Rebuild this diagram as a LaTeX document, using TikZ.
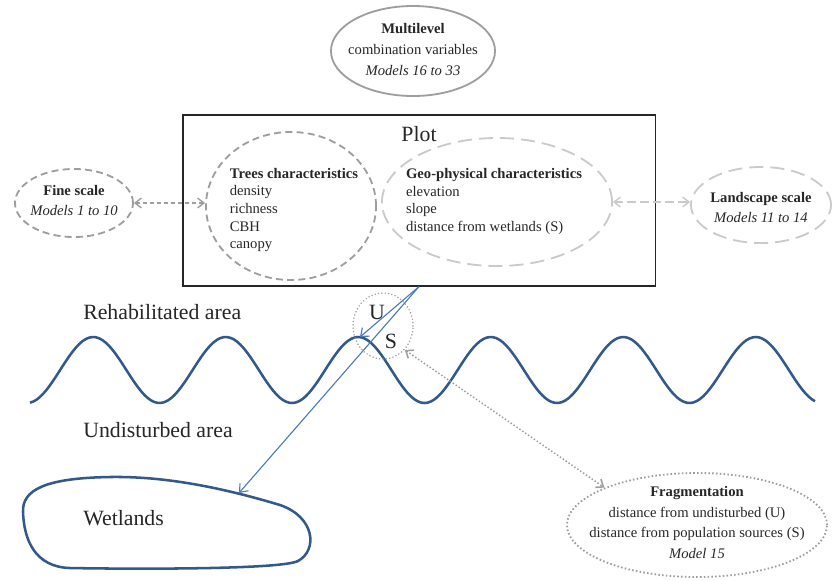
\documentclass[tikz,border=0pt]{standalone}
\usepackage{fontspec}
\setmainfont{Liberation Serif}
\usetikzlibrary{arrows.meta, shapes.geometric, positioning}
\definecolor{WaveBlue}{RGB}{50,88,140}
\definecolor{LinkBlue}{RGB}{72,124,186}
\definecolor{RingGray}{RGB}{158,158,158}
\definecolor{PaleGray}{RGB}{202,202,202}
\begin{document}
\begin{tikzpicture}[x=0.025cm, y=-0.025cm,
    every node/.style={text=black!85, font=\fontsize{10.4}{12.6}\selectfont},
    txt/.style={inner sep=0pt, align=left},
    ctxt/.style={inner sep=0pt, align=center, font=\fontsize{10.4}{14.9}\selectfont},
    big/.style={inner sep=0pt, font=\fontsize{15.5}{18}\selectfont},
    ring/.style={ellipse, draw=RingGray, line width=1.3pt, inner sep=0pt},
    dsh/.style={ellipse, draw=RingGray, line width=1.3pt,
                dash pattern=on 5pt off 3pt, inner sep=0pt},
    ldsh/.style={ellipse, draw=PaleGray, line width=1.3pt,
                 dash pattern=on 10pt off 5pt, inner sep=0pt},
    dot/.style={ellipse, draw=RingGray, line width=1.2pt, line cap=round,
                dash pattern=on 0pt off 2.4pt, inner sep=0pt},
    arrb/.style={-{Straight Barb[length=5pt,width=8pt]}, LinkBlue, line width=0.8pt},
    arrd/.style={{Straight Barb[length=4.5pt,width=7pt]}-{Straight Barb[length=4.5pt,width=7pt]},
                 RingGray, line width=1pt, dash pattern=on 3pt off 2pt},
    arrl/.style={{Straight Barb[length=4.5pt,width=7pt]}-{Straight Barb[length=4.5pt,width=7pt]},
                 PaleGray, line width=1pt, dash pattern=on 6pt off 3pt},
    arrp/.style={{Straight Barb[length=4.5pt,width=7pt]}-{Straight Barb[length=4.5pt,width=7pt]},
                 RingGray, line width=1.1pt, dash pattern=on 1pt off 1.5pt},
    wave/.style={WaveBlue, line width=1.8pt}
  ]
  \useasboundingbox (0,0) rectangle (832,580);

  % plot box and its two groups of variables
  \node[draw=black!85, line width=0.8pt, inner sep=0pt,
        minimum width=11.8cm, minimum height=4.275cm] (plot) at (419,200.5) {};
  \node[big, below=0.3cm of plot.north] (plotLbl) {Plot};
  \node[dsh, minimum width=4.25cm, minimum height=3.7cm] (trees) at (291,206) {};
  \node[txt] (treesTxt) at (294,210)
    {\textbf{Trees characteristics}\\density\\richness\\CBH\\canopy};
  \node[ldsh, minimum width=5.75cm, minimum height=3.2cm] (geo) at (497,202) {};
  \node[txt] (geoTxt) at (494,201.5)
    {\textbf{Geo-physical characteristics}\\elevation\\slope\\distance from wetlands (S)};

  % scales
  \node[ring, minimum width=4.1cm, minimum height=2.25cm] (multi) at (413,51) {};
  \node[ctxt, font=\fontsize{10.4}{15.2}\selectfont] (multiTxt) at (413,49.5)
    {\textbf{Multilevel}\\combination variables\\\textit{Models 16 to 33}};
  \node[dsh, minimum width=2.95cm, minimum height=1.7cm] (fine) at (74,203) {};
  \node[ctxt] (fineTxt) at (74,200.5) {\textbf{Fine scale}\\\textit{Models 1 to 10}};
  \node[ldsh, minimum width=3.5cm, minimum height=1.9cm] (land) at (761,205) {};
  \node[ctxt] (landTxt) at (761,207.5) {\textbf{Landscape scale}\\\textit{Models 11 to 14}};
  \node[ellipse, draw=RingGray, line width=1.3pt, dash pattern=on 1.1pt off 1.6pt,
        inner sep=0pt, minimum width=6.5cm, minimum height=2.6cm] (frag) at (697,525) {};
  \node[ctxt] (fragTxt) at (697,522.5)
    {\textbf{Fragmentation}\\distance from undisturbed (U)\\distance from population sources (S)\\\textit{Model 15}};

  \draw[arrd] (fine.east) -- (trees.west |- fine.east);
  \draw[arrl] (geo.east) -- (land.west |- geo.east);

  % landscape
  \node[big, anchor=west] (rehab) at (83,312) {Rehabilitated area};
  \node[big, anchor=west] (undist) at (83,430) {Undisturbed area};
  \node[big, anchor=west] (wetLbl) at (83,518) {Wetlands};
  \draw[wave] plot[domain=30:815, samples=240]
    (\x, {370+33*cos(2.717*(\x-27))});
  \draw[wave] (23,512) .. controls (22,490) and (45,478) .. (110,477)
    .. controls (170,476) and (230,490) .. (280,505)
    .. controls (315,517) and (318,550) .. (298,561)
    .. controls (280,570) and (120,569) .. (70,568)
    .. controls (35,567) and (24,540) .. (23,512) -- cycle;
  \coordinate (uTip) at (360,337);
  \coordinate (wetTop) at (239,493);

  % edge between the two areas
  \node[dot, minimum width=1.5cm, minimum height=1.65cm] (us) at (383,326) {};
  \node[big] (uLbl) at (377,312) {U};
  \node[big] (sLbl) at (391,341) {S};

  \draw[arrb] (plot.south) -- (uTip);
  \draw[arrb] (plot.south) -- (wetTop);
  \draw[arrp] (us.south east) -- (frag.north west);
\end{tikzpicture}
\end{document}
